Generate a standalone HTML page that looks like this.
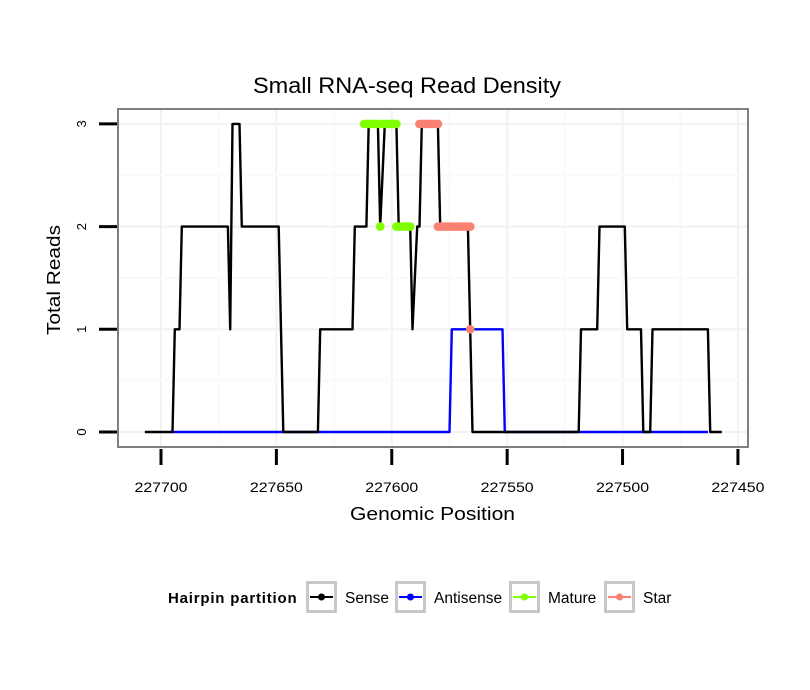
<!DOCTYPE html>
<html><head><meta charset="utf-8"><style>
html,body{margin:0;padding:0;background:#fff;}
svg{display:block;font-family:"Liberation Sans",sans-serif;}
</style></head><body>
<svg id="chart" width="810" height="690" viewBox="0 0 810 690">
<rect x="0" y="0" width="810" height="690" fill="#fff"/>
<text x="253" y="93" font-size="22" textLength="308" lengthAdjust="spacingAndGlyphs" fill="#000">Small RNA-seq Read Density</text>
<g id="grid"></g>
<g id="series"></g>
<rect x="118" y="109" width="630" height="338" fill="none" stroke="#7f7f7f" stroke-width="2"/>
<g id="axes"></g>
<text x="350" y="520" font-size="18" textLength="165" lengthAdjust="spacingAndGlyphs">Genomic Position</text>
<text transform="translate(60,335) rotate(-90)" font-size="18" textLength="110" lengthAdjust="spacingAndGlyphs">Total Reads</text>
<g>
<text x="168" y="603" font-size="15" font-weight="bold" letter-spacing="0.8">Hairpin partition</text>
<g><rect x="307.5" y="582.5" width="28" height="29" fill="#fff" stroke="#c8c8c8" stroke-width="3"/><line x1="310" y1="597" x2="333" y2="597" stroke="#000" stroke-width="2"/><circle cx="321.5" cy="597" r="3.5" fill="#000"/><text x="345" y="603" font-size="15.5">Sense</text></g>
<g><rect x="396.5" y="582.5" width="28" height="29" fill="#fff" stroke="#c8c8c8" stroke-width="3"/><line x1="399" y1="597" x2="422" y2="597" stroke="#0000ff" stroke-width="2"/><circle cx="410.5" cy="597" r="3.5" fill="#0000ff"/><text x="434" y="603" font-size="15.5">Antisense</text></g>
<g><rect x="510.5" y="582.5" width="28" height="29" fill="#fff" stroke="#c8c8c8" stroke-width="3"/><line x1="513" y1="597" x2="536" y2="597" stroke="#7fff00" stroke-width="2"/><circle cx="524.5" cy="597" r="3.5" fill="#7fff00"/><text x="548" y="603" font-size="15.5">Mature</text></g>
<g><rect x="605.5" y="582.5" width="28" height="29" fill="#fff" stroke="#c8c8c8" stroke-width="3"/><line x1="608" y1="597" x2="631" y2="597" stroke="#fa8072" stroke-width="2"/><circle cx="619.5" cy="597" r="3.5" fill="#fa8072"/><text x="643" y="603" font-size="15.5">Star</text></g>
</g>
</svg>
<script>
const senseX=[227707,227695,227694,227692,227691,227671,227670,227669,227666,227665,227649,227647,227632,227631,227617,227616,227611,227610,227606,227605,227603,227598,227597,227592,227591,227589,227588,227587,227580,227579,227567,227565,227519,227518,227511,227510,227499,227498,227492,227491,227488,227487,227463,227462,227457];
const senseY=[0,0,1,1,2,2,1,3,3,2,2,0,0,1,1,2,2,3,3,2,3,3,2,2,1,2,2,3,3,2,2,0,0,1,1,2,2,1,1,0,0,1,1,0,0];
const antiX=[227695,227575,227574,227552,227551,227463];
const antiY=[0,0,1,1,0,0];
const matureX=[227612,227611,227610,227609,227608,227607,227606,227604,227603,227602,227601,227600,227599,227598,227605,227598,227597,227596,227595,227594,227593,227592];
const matureY=[3,3,3,3,3,3,3,3,3,3,3,3,3,3,2,2,2,2,2,2,2,2];
const starX=[227588,227587,227586,227585,227584,227583,227582,227581,227580,227580,227579,227578,227577,227576,227575,227574,227573,227572,227571,227570,227569,227568,227567,227566,227566];
const starY=[3,3,3,3,3,3,3,3,3,2,2,2,2,2,2,2,2,2,2,2,2,2,2,2,1];
const xTicks=[227700,227650,227600,227550,227500,227450];
const yTicks=[0,1,2,3];

const NS="http://www.w3.org/2000/svg";
function sx(v){return 161+(227700-v)*2.3077;}
function sy(v){return 432-v*102.7;}
function mk(tag,attrs,parent){const e=document.createElementNS(NS,tag);for(const k in attrs)e.setAttribute(k,attrs[k]);parent.appendChild(e);return e;}
const grid=document.getElementById('grid'),series=document.getElementById('series'),axes=document.getElementById('axes');
for(let i=0;i<xTicks.length;i++){
  const x=sx(xTicks[i]);
  if(x>118&&x<748){const l=mk('line',{x1:x,x2:x,y1:109,y2:447,stroke:'#f2f2f2','stroke-width':2},grid);
  
  }
  const m=sx(xTicks[i]-25);
  if(m>118&&m<748){const l=mk('line',{x1:m,x2:m,y1:109,y2:447,stroke:'#fafafa','stroke-width':2},grid);
  
  }
  const t=mk('line',{x1:x,x2:x,y1:449,y2:465,stroke:'#000','stroke-width':3},axes);
  
  
  const tl=mk('text',{x:x-26.5,y:492,'font-size':14,textLength:53,lengthAdjust:'spacingAndGlyphs'},axes);
  tl.textContent=xTicks[i];
  
  
}
for(let i=0;i<yTicks.length;i++){
  const y=sy(yTicks[i]);
  const l=mk('line',{x1:118,x2:748,y1:y,y2:y,stroke:'#f2f2f2','stroke-width':2},grid);
  
  
  if(i<yTicks.length-1){const m=sy(yTicks[i]+0.5);
  const ml=mk('line',{x1:118,x2:748,y1:m,y2:m,stroke:'#fafafa','stroke-width':2},grid);
  
  }
  const t=mk('line',{x1:99,x2:117,y1:y,y2:y,stroke:'#000','stroke-width':3},axes);
  
  
  const tl=mk('text',{transform:'translate('+86+','+y+') rotate(-90)','font-size':13,'text-anchor':'middle'},axes);
  tl.textContent=yTicks[i];
  
  
}
function line(xs,ys,color,name){
  const p=xs.map((v,i)=>sx(v).toFixed(1)+','+sy(ys[i]).toFixed(1)).join(' ');
  const e=mk('polyline',{points:p,fill:'none',stroke:color,'stroke-width':2.4,'stroke-linejoin':'round'},series);
  
  
}
function pts(xs,ys,color,name){
  for(let i=0;i<xs.length;i++){
    const c=mk('circle',{cx:sx(xs[i]),cy:sy(ys[i]),r:4.3,fill:color},series);
    
    
  }
}
line(antiX,antiY,'#0000ff','antisense-line');
line(senseX,senseY,'#000000','sense-line');
pts(matureX,matureY,'#7fff00','mature-point');
pts(starX,starY,'#fa8072','star-point');
</script>
</body></html>
